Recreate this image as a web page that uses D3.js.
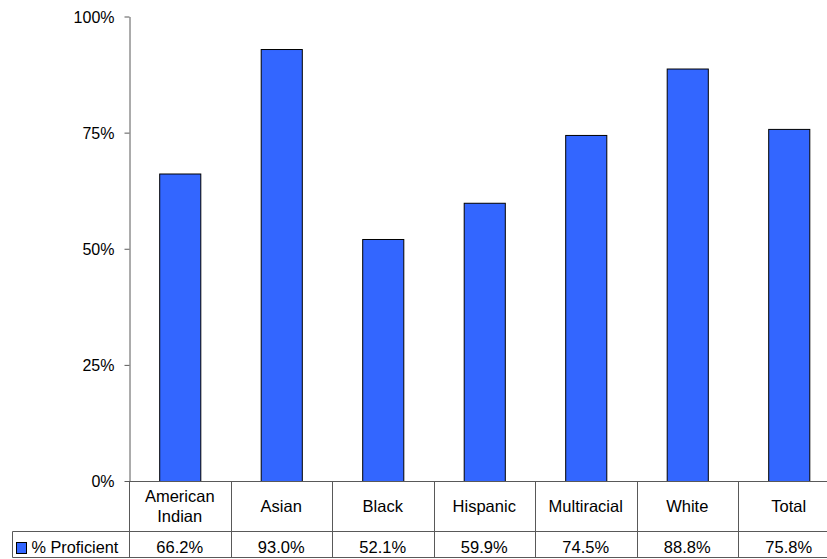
<!DOCTYPE html>
<html><head><meta charset="utf-8">
<script src="https://cdn.jsdelivr.net/npm/d3@7"></script>
<style>body{margin:0;background:#fff}svg{display:block}text{font-family:"Liberation Sans",Arial,sans-serif;fill:#000}</style>
</head><body><svg id="c" width="827" height="559"></svg>
<script>
const categories = ["American Indian","Asian","Black","Hispanic","Multiracial","White","Total"];
const categoryLines = [["American","Indian"],["Asian"],["Black"],["Hispanic"],["Multiracial"],["White"],["Total"]];
const seriesName = "% Proficient";
const values = [66.2,93.0,52.1,59.9,74.5,88.8,75.8];
const yTicks = [0,25,50,75,100];

(function(){
const svg = d3.select("#c");
const pLeft = 129, pTop = 16.5, pBottom = 481, pRight = 839.5;
const x = d3.scaleBand().domain(categories).range([pLeft,pRight]).paddingInner(0.595).paddingOuter(0.2975);
const xs = d3.scaleBand().domain(categories).range([pLeft,pRight]);
const y = d3.scaleLinear().domain([0,100]).range([pBottom,pTop]);
const lineCol = "#595959";

// bars
svg.append("g").selectAll("rect").data(values).join("rect")
  .attr("x",(d,i)=>x(categories[i])+0.5).attr("y",d=>y(d)+0.5)
  .attr("width",x.bandwidth()).attr("height",d=>pBottom-y(d))
  .attr("fill","#3366ff").attr("stroke","#000").attr("stroke-width",1);

// y axis
const ya = svg.append("g").attr("transform",`translate(${pLeft+0.5},0)`)
  .call(d3.axisLeft(y).tickValues(yTicks).tickFormat(d=>d+"%").tickSize(5).tickSizeOuter(0));
ya.select(".domain").attr("stroke",lineCol);
ya.selectAll(".tick line").attr("stroke",lineCol);
ya.selectAll(".tick text").attr("font-size",16).attr("x",-15).attr("dy","0.35em")
  .style("font-family","'Liberation Sans',Arial,sans-serif");

// table
const rowTop = pBottom, rowMid = 531.5, rowBot = 557.5, legLeft = 12.5;
const g = svg.append("g");
g.append("line").attr("x1",pLeft).attr("x2",827).attr("y1",rowTop+0.5).attr("y2",rowTop+0.5).attr("stroke",lineCol);
g.append("line").attr("x1",legLeft).attr("x2",827).attr("y1",rowMid).attr("y2",rowMid).attr("stroke",lineCol);
g.append("line").attr("x1",legLeft).attr("x2",827).attr("y1",rowBot).attr("y2",rowBot).attr("stroke",lineCol);
g.append("line").attr("x1",legLeft).attr("x2",legLeft).attr("y1",rowMid).attr("y2",rowBot).attr("stroke",lineCol);
const bounds = [pLeft].concat(categories.map(c=>xs(c)+xs.bandwidth()));
g.selectAll("line.v").data(bounds).join("line").attr("class","v")
  .attr("x1",d=>Math.round(d)+0.5).attr("x2",d=>Math.round(d)+0.5).attr("y1",rowTop).attr("y2",rowBot).attr("stroke",lineCol);

// header labels
categories.forEach((c,i)=>{
  const lines = categoryLines[i];
  const cx = xs(c)+xs.bandwidth()/2;
  const cy = (rowTop+rowMid)/2;
  const t = g.append("text").attr("text-anchor","middle").attr("font-size",16.5);
  lines.forEach((l,j)=>{
    t.append("tspan").attr("x",cx).attr("y",cy + (j-(lines.length-1)/2)*20).attr("dy","0.35em").text(l);
  });
  g.append("text").attr("x",cx).attr("y",553)
    .attr("text-anchor","middle").attr("font-size",16.5).text(values[i].toFixed(1)+"%");
});
// legend
g.append("rect").attr("x",16.5).attr("y",542.5).attr("width",10).attr("height",11)
  .attr("fill","#3366ff").attr("stroke","#000");
g.append("text").attr("x",31.5).attr("y",553).attr("font-size",16.3).text(seriesName);
})();
</script></body></html>
